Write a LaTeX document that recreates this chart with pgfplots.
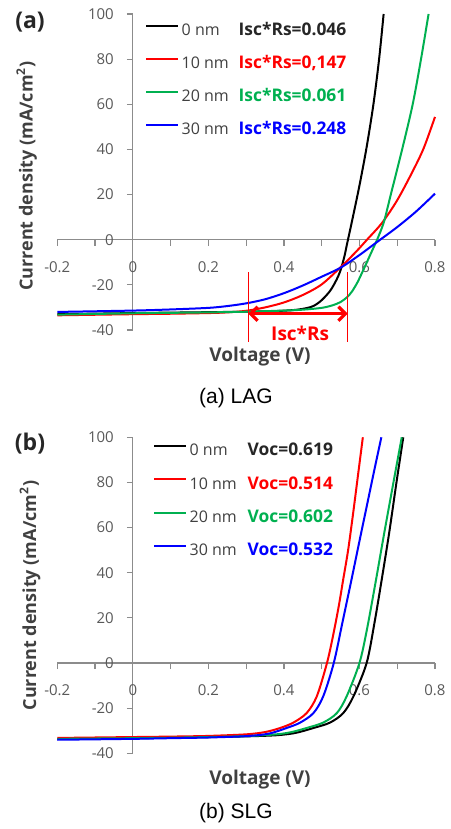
\documentclass[border=0pt]{standalone}
\usepackage{pgfplots}
\pgfplotsset{compat=1.18}
\usepackage{fontspec}
\setmainfont{Liberation Sans}
\newfontfamily\chartfont{Open Sans}
\usetikzlibrary{arrows.meta}
\definecolor{cblack}{HTML}{000000}
\definecolor{cred}{HTML}{FF0000}
\definecolor{cgreen}{HTML}{00B050}
\definecolor{cblue}{HTML}{0000FF}
\definecolor{tickgray}{HTML}{595959}
\definecolor{axgray}{HTML}{8C8C8C}
\definecolor{labgray}{HTML}{404040}

\pgfplotsset{
  jvstyle/.style={
    scale only axis, width=188.85pt, height=158pt,
    xmin=-0.2, xmax=0.8, ymin=-40, ymax=100,
    axis lines=middle,
    axis line style={-, draw=axgray, line width=0.6pt},
    hide obscured x ticks=false, hide obscured y ticks=false,
    xtick={-0.2,0,0.2,0.4,0.6,0.8},
    minor xtick={-0.1,0.1,0.3,0.5,0.7},
    ytick={-40,-20,0,20,40,60,80,100},
    tick align=outside,
    major tick length=3pt, minor tick length=3pt,
    every tick/.style={draw=axgray, line width=0.6pt},
    /pgf/number format/assume math mode=true,
    ticklabel style={font=\chartfont\fontsize{7.5}{8}\selectfont, text=tickgray},
    xticklabel style={yshift=-4.5pt},
    yticklabel style={xshift=-3pt},
    legend cell align=left,
    legend image code/.code={\draw[#1] (0pt,2.8pt) -- (16pt,2.8pt);},
    every axis plot/.append style={line width=1pt, smooth, tension=0.5},
  },
  legstyle/.style={
    legend style={draw=none, fill=none, inner sep=0pt, row sep=#1, column sep=1.2pt,
      font=\chartfont\fontsize{8}{9}\selectfont, text=labgray,
      nodes={inner sep=0pt, text height=6pt, text depth=2pt}},
  },
}

\begin{document}
\begin{tikzpicture}
\path[use as bounding box] (0pt,0pt) rectangle (225pt,414.5pt);

% ---------------- Panel (a) LAG ----------------
\begin{axis}[jvstyle, at={(28.65pt,249.5pt)}, anchor=south west, clip=false,
  legstyle=8.55pt, legend style={at={(0.232,0.972)}, anchor=north west}]
\addplot[cblack] coordinates {
(-0.2,-33.0) (0,-32.5) (0.1,-32.3) (0.2,-32.1) (0.3,-31.9) (0.38,-31.6) (0.43,-31.1)
(0.46,-30.3) (0.479,-29.3) (0.50,-26.8) (0.523,-22.5) (0.54,-17.5) (0.55,-13.5)
(0.56,-7.5) (0.567,-2) (0.58,8) (0.60,24) (0.619,41) (0.637,60) (0.652,80) (0.664,100)};
\addlegendentry{\makebox[28.5pt][l]{0 nm}{\bfseries\fontsize{8.7}{9}\selectfont\color{black!85}Isc*Rs=0.046}}
\addplot[cred] coordinates {
(-0.2,-33.5) (0,-33.0) (0.1,-32.8) (0.2,-32.5) (0.25,-32.2) (0.3,-31.5) (0.35,-30.0)
(0.4,-27.8) (0.45,-24.5) (0.5,-19.8) (0.55,-12.2) (0.59,-5.5) (0.62,0) (0.66,7.5)
(0.7,17.5) (0.74,30) (0.77,40.5) (0.8,54.4)};
\addlegendentry{\makebox[28.5pt][l]{10 nm}{\bfseries\fontsize{8.7}{9}\selectfont\color{cred}Isc*Rs=0,147}}
\addplot[cgreen] coordinates {
(-0.2,-33.2) (0,-32.6) (0.1,-32.4) (0.2,-32.2) (0.3,-31.9) (0.4,-31.4) (0.45,-31.0)
(0.5,-30.2) (0.53,-29.0) (0.55,-27.6) (0.567,-25.5) (0.58,-23) (0.595,-18.8)
(0.61,-13.5) (0.625,-8) (0.64,-2.5) (0.65,1.3) (0.665,8) (0.683,20) (0.713,40)
(0.741,60) (0.763,80) (0.783,100)};
\addlegendentry{\makebox[28.5pt][l]{20 nm}{\bfseries\fontsize{8.7}{9}\selectfont\color{cgreen}Isc*Rs=0.061}}
\addplot[cblue] coordinates {
(-0.2,-32.0) (0,-31.4) (0.1,-30.9) (0.2,-30.2) (0.25,-29.4) (0.3,-28.2) (0.35,-26.4)
(0.4,-23.7) (0.45,-20.3) (0.5,-16.4) (0.55,-12.4) (0.6,-6.8) (0.65,-0.6) (0.7,5.6)
(0.75,12.5) (0.8,20.4)};
\addlegendentry{\makebox[28.5pt][l]{30 nm}{\bfseries\fontsize{8.7}{9}\selectfont\color{cblue}Isc*Rs=0.248}}
% Isc*Rs annotation
\draw[cred, line width=0.6pt] (axis cs:0.306,-14.4) -- (axis cs:0.306,-45.4);
\draw[cred, line width=0.6pt] (axis cs:0.569,-14.4) -- (axis cs:0.569,-45.4);
\draw[cred, line width=1.6pt, {Straight Barb[length=3.5pt,width=7pt]}-{Straight Barb[length=3.5pt,width=7pt]}]
  (axis cs:0.306,-32.8) -- (axis cs:0.569,-32.8);
\node[text=cred, font=\chartfont\bfseries\fontsize{9.5}{10}\selectfont] at (axis cs:0.443,-41.7) {Isc*Rs};
\end{axis}

\node[font=\chartfont\bfseries\fontsize{11.5}{12}\selectfont, text=black!85] at (15pt,403.65pt) {(a)};
\node[rotate=90, font=\chartfont\bfseries\fontsize{9}{10}\selectfont, text=labgray] at (13.35pt,326.5pt) {Current density (mA/cm\textsuperscript{2})};
\node[font=\chartfont\bfseries\fontsize{9.5}{10}\selectfont, text=labgray] at (130pt,236pt) {Voltage (V)};
\node[font=\fontsize{10.5}{12}\selectfont] at (118pt,215.5pt) {(a) LAG};

% ---------------- Panel (b) SLG ----------------
\begin{axis}[jvstyle, at={(28.65pt,37.85pt)}, anchor=south west, clip=false,
  legstyle=8.67pt, legend style={at={(0.253,0.981)}, anchor=north west}]
\addplot[cblack] coordinates {
(-0.2,-33.6) (0,-33.3) (0.1,-33.1) (0.2,-32.8) (0.3,-32.5) (0.38,-32) (0.43,-31)
(0.478,-28.8) (0.522,-26.4) (0.557,-22.2) (0.584,-14.8) (0.619,0) (0.64,18)
(0.659,37) (0.679,58) (0.698,80) (0.716,100)};
\addlegendentry{\makebox[29pt][l]{0 nm}{\bfseries\fontsize{8.7}{9}\selectfont\color{black!85}Voc=0.619}}
\addplot[cred] coordinates {
(-0.2,-33.2) (0,-32.8) (0.1,-32.6) (0.2,-32.3) (0.3,-31.6) (0.35,-30.6) (0.39,-28.8)
(0.425,-26.4) (0.46,-22.2) (0.487,-14.8) (0.514,0) (0.53,12) (0.545,25) (0.557,37)
(0.57,50) (0.583,66) (0.596,83) (0.609,100)};
\addlegendentry{\makebox[29pt][l]{10 nm}{\bfseries\fontsize{8.7}{9}\selectfont\color{cred}Voc=0.514}}
\addplot[cgreen] coordinates {
(-0.2,-33.6) (0,-33.3) (0.1,-33.1) (0.2,-32.8) (0.3,-32.4) (0.38,-31.6) (0.42,-30.6)
(0.46,-28.8) (0.504,-26.4) (0.540,-22.2) (0.566,-14.8) (0.600,0) (0.62,15)
(0.644,37) (0.665,57) (0.69,80) (0.712,100)};
\addlegendentry{\makebox[29pt][l]{20 nm}{\bfseries\fontsize{8.7}{9}\selectfont\color{cgreen}Voc=0.602}}
\addplot[cblue] coordinates {
(-0.2,-34) (0,-33.6) (0.1,-33.3) (0.2,-33) (0.3,-32.4) (0.36,-31.3) (0.407,-28.8)
(0.443,-26.4) (0.478,-22.2) (0.504,-14.8) (0.532,0) (0.555,18) (0.579,37) (0.60,54)
(0.62,70) (0.64,86) (0.658,100)};
\addlegendentry{\makebox[29pt][l]{30 nm}{\bfseries\fontsize{8.7}{9}\selectfont\color{cblue}Voc=0.532}}
\end{axis}

\node[font=\chartfont\bfseries\fontsize{11.5}{12}\selectfont, text=black!85] at (15pt,192.85pt) {(b)};
\node[rotate=90, font=\chartfont\bfseries\fontsize{9}{10}\selectfont, text=labgray] at (15pt,116.75pt) {Current density (mA/cm\textsuperscript{2})};
\node[font=\chartfont\bfseries\fontsize{9.5}{10}\selectfont, text=labgray] at (130pt,24.5pt) {Voltage (V)};
\node[font=\fontsize{10.5}{12}\selectfont] at (118pt,8pt) {(b) SLG};
\end{tikzpicture}
\end{document}
